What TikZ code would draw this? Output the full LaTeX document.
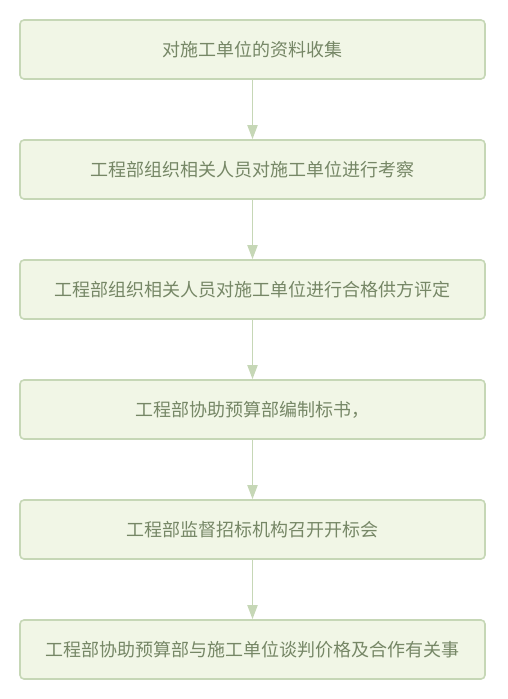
\documentclass[tikz,border=0pt]{standalone}
\usepackage{fontspec}
\setmainfont{Noto Sans CJK SC}
\usetikzlibrary{arrows.meta}
\definecolor{boxfill}{HTML}{F1F6E6}
\definecolor{boxline}{HTML}{C6D7B6}
\definecolor{boxtext}{HTML}{768766}
\tikzset{
    node distance=120pt, % vertical step between two boxes
    }

\begin{document}
\begin{tikzpicture}[x=1pt,y=-1pt,
boxnode/.style={rectangle, rounded corners=4pt, draw=boxline, fill=boxfill, line width=1.6pt,
  minimum width=465pt, minimum height=59pt, text=boxtext, font=\fontsize{18}{21}\selectfont},
flowline/.style={draw=boxline, line width=1.8pt, -{Triangle[width=10pt,length=14pt]}},
]
\useasboundingbox (0,0) rectangle (508,699);
\node[boxnode] (collect) at (252.5,49.5) {对施工单位的资料收集};
\node[boxnode] (inspect) [below of=collect] {工程部组织相关人员对施工单位进行考察};
\node[boxnode] (assess) [below of=inspect] {工程部组织相关人员对施工单位进行合格供方评定};
\node[boxnode] (tender) [below of=assess] {工程部协助预算部编制标书，};
\node[boxnode] (bidopen) [below of=tender] {工程部监督招标机构召开开标会};
\node[boxnode] (negotiate) [below of=bidopen] {工程部协助预算部与施工单位谈判价格及合作有关事};

\draw[flowline] (collect.south) -- (inspect.north);
\draw[flowline] (inspect.south) -- (assess.north);
\draw[flowline] (assess.south) -- (tender.north);
\draw[flowline] (tender.south) -- (bidopen.north);
\draw[flowline] (bidopen.south) -- (negotiate.north);
\end{tikzpicture}
\end{document}
